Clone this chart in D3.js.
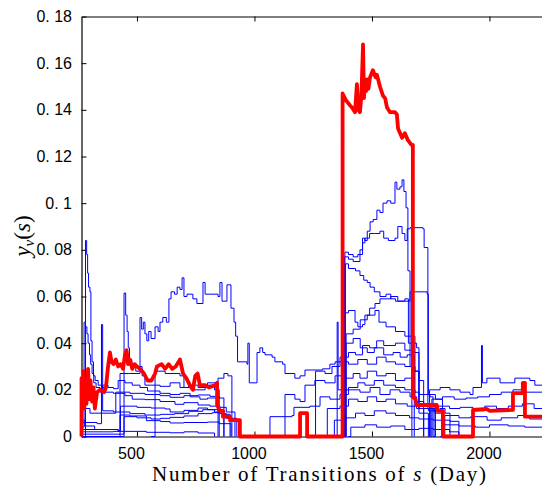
<!DOCTYPE html>
<html><head><meta charset="utf-8">
<script src="https://cdn.jsdelivr.net/npm/d3@7"></script>
<style>body{margin:0;background:#fff}svg{display:block}</style>
</head><body><svg id="c" width="542" height="486"></svg>
<script>
const xTicks=[500,1000,1500,2000];
const yTicks=[0,0.02,0.04,0.06,0.08,0.1,0.12,0.14,0.16,0.18];
const yTickLabels=["0","0. 02","0. 04","0. 06","0. 08","0. 1","0. 12","0. 14","0. 16","0. 18"];

const redSeries=[[264,0],[264,0.025],[268,0.015],[272,0.028],[276,0.012],[280,0.022],[285,0.014],[292,0.029],[297,0.016],[302,0.024],[309,0.015],[315,0.021],[321,0.012],[330,0.019],[343,0.020],[360,0.019],[368,0.021],[377,0.030],[385,0.036],[392,0.032],[400,0.031],[410,0.033],[420,0.030],[430,0.031],[441,0.029],[449,0.035],[456,0.037],[462,0.031],[470,0.033],[480,0.029],[490,0.031],[500,0.030],[513,0.029],[530,0.027],[545,0.024],[562,0.024],[577,0.027],[585,0.030],[605,0.031],[620,0.029],[635,0.031],[650,0.029],[665,0.030],[683,0.033],[696,0.027],[710,0.025],[725,0.022],[738,0.020],[748,0.026],[758,0.027],[768,0.022],[790,0.022],[806,0.021],[832,0.022],[841,0.023],[841,0.0135],[853,0.011],[866,0.011],[866,0.0085],[896,0.0085],[896,0.007],[938,0.007],[938,0],[1194,0],[1194,0.010],[1224,0.010],[1224,0],[1375,0],[1375,0.147],[1390,0.144],[1406,0.142],[1415,0.141],[1428,0.139],[1436,0.151],[1442,0.140],[1449,0.139],[1455,0.146],[1462,0.168],[1466,0.145],[1470,0.152],[1475,0.148],[1479,0.153],[1485,0.149],[1492,0.154],[1504,0.157],[1515,0.154],[1521,0.155],[1534,0.150],[1547,0.146],[1556,0.145],[1564,0.141],[1577,0.139],[1598,0.139],[1606,0.138],[1611,0.132],[1628,0.128],[1640,0.130],[1653,0.127],[1668,0.125],[1674,0.125],[1674,0.017],[1685,0.016],[1691,0.0135],[1776,0.0135],[1780,0.011],[1802,0.011],[1802,0],[1930,0],[1930,0.0114],[1989,0.0118],[2000,0.011],[2100,0.0114],[2100,0.0186],[2142,0.0186],[2142,0.023],[2151,0.023],[2151,0.0085],[2300,0.0085]];

const blue01=[[264,0],[281,0.084],[286,0.078],[290,0.070],[294,0.064],[300,0.062],[304,0.041],[309,0.032],[315,0.026],[322,0.024],[335,0.022],[350,0.021],[364,0.019],[400,0.0185],[449,0.0175],[480,0.016],[534,0.0158],[598,0.015],[662,0.0138],[700,0.0145],[760,0.0135],[811,0.0130],[853,0.0125],[880,0.0105],[917,0]];
const blue02=[[264,0.004],[275,0.049],[281,0.047],[287,0.044],[292,0.040],[298,0.035],[303,0.031],[309,0.027],[316,0.023],[326,0.021],[343,0.019],[355,0.022],[377,0.021],[400,0.0205],[420,0.024],[449,0.023],[480,0.022],[513,0.021],[545,0.0195],[598,0.0185],[641,0.018],[683,0.0185],[726,0.017],[768,0.016],[800,0.0165],[845,0]];
const blue03=[[264,0.006],[330,0.0055],[349,0.048],[354,0.011],[400,0.0105],[470,0.0098],[534,0.0092],[600,0.0095],[660,0.0098],[720,0.0108],[780,0.0115],[830,0.0105],[866,0.0095],[896,0]];
const blue04=[[264,0.001],[445,0.0615],[452,0.052],[458,0.045],[463,0.038],[468,0.033],[478,0.030],[495,0.028],[510,0.030],[522,0.026],[534,0.022],[560,0.022],[598,0.0215],[641,0.023],[683,0.021],[720,0.022],[760,0.021],[800,0.023],[845,0.025],[870,0.027],[887,0.026],[904,0]];
const blue05=[[264,0.002],[400,0.0022],[428,0.027],[470,0.027],[513,0.051],[520,0.046],[527,0.049],[534,0.044],[542,0.041],[550,0.045],[560,0.042],[577,0.047],[590,0.045],[598,0.049],[610,0.051],[625,0.049],[636,0.059],[645,0.062],[660,0.061],[671,0.064],[683,0.063],[692,0.068],[700,0.060],[713,0.061],[738,0.059],[755,0.057],[781,0.066],[790,0.061],[845,0.060],[853,0.066],[862,0.058],[883,0.065],[900,0.055],[913,0.049],[920,0.043],[928,0.032],[968,0.031],[972,0.040],[978,0.023],[1011,0.036],[1023,0.038],[1035,0.036],[1045,0.035],[1075,0.034],[1087,0.032],[1120,0.031],[1130,0.027],[1172,0.025],[1194,0.026],[1215,0.0285],[1290,0.029],[1321,0.031],[1343,0.032],[1364,0.034],[1400,0.036],[1430,0.035],[1460,0.039],[1490,0.038],[1520,0.041],[1550,0.039],[1600,0.040],[1640,0.037],[1680,0.036],[1700,0.012],[1760,0.011],[1800,0]];
const blue06=[[264,0.012],[300,0.010],[410,0.019],[470,0.0185],[534,0.018],[598,0.0175],[641,0.0168],[700,0.0175],[760,0.0178],[811,0.0172],[850,0.0165],[870,0]];
const blue07=[[264,0.003],[420,0.0025],[430,0.013],[500,0.0125],[560,0.0122],[620,0.0118],[641,0.0105],[700,0.0112],[760,0.0122],[800,0.0115],[845,0.011],[870,0]];
const blue08=[[264,0],[440,0],[445,0.0085],[500,0.0080],[560,0.0075],[600,0.0078],[641,0.0082],[700,0.0088],[760,0.0098],[820,0.0102],[850,0.0098],[880,0.0078],[925,0]];
const blue09=[[264,0],[420,0],[428,0.0092],[470,0.0088],[540,0.0068],[600,0.0064],[641,0.0058],[700,0.0060],[800,0.0062],[850,0.0055],[900,0]];
const blue10=[[264,0.007],[278,0.0045],[320,0.003],[420,0.0022],[540,0.0018],[640,0.0016],[700,0.002],[760,0.0015],[830,0]];
const blue11=[[560,0],[577,0.028],[620,0.027],[683,0.026],[700,0.021],[740,0.020],[790,0.022],[830,0.020],[850,0]];
const blue12=[[1060,0],[1066,0.0085],[1160,0.009],[1168,0.0125],[1236,0.013],[1279,0.017],[1321,0.016],[1364,0.018],[1400,0.020],[1449,0.019],[1492,0.021],[1534,0.018],[1577,0.020],[1619,0.019],[1662,0.017],[1690,0.012],[1720,0]];
const blue13=[[1125,0],[1130,0.018],[1172,0.016],[1194,0.015],[1215,0.022],[1257,0.024],[1300,0.023],[1343,0.026],[1385,0.025],[1420,0.027],[1449,0.025],[1480,0.028],[1520,0.026],[1560,0.027],[1600,0.024],[1640,0.025],[1670,0]];
const blue14=[[1255,0],[1260,0.028],[1300,0.027],[1330,0.030],[1364,0.032],[1400,0.031],[1440,0.033],[1480,0.031],[1520,0.034],[1560,0.032],[1600,0.031],[1640,0.030],[1680,0.028],[1700,0.018],[1747,0.017],[1760,0]];
const blue15=[[1340,0],[1352,0.049],[1356,0.020],[1400,0.021],[1440,0.023],[1470,0.022],[1510,0.024],[1550,0.022],[1600,0.021],[1640,0.020],[1683,0.019],[1700,0.014],[1740,0.013],[1768,0]];
const blue16=[[1380,0],[1390,0.044],[1420,0.046],[1450,0.050],[1480,0.052],[1513,0.054],[1530,0.049],[1560,0.047],[1600,0.045],[1640,0.043],[1670,0.043],[1683,0.015],[1720,0.014],[1750,0]];
const blue17=[[1375,0],[1385,0.079],[1400,0.078],[1420,0.077],[1440,0.078],[1449,0.080],[1460,0.085],[1470,0.084],[1480,0.088],[1492,0.092],[1505,0.093],[1521,0.097],[1534,0.096],[1547,0.100],[1564,0.101],[1580,0.100],[1598,0.109],[1606,0.106],[1619,0.107],[1628,0.110],[1636,0.105],[1645,0.098],[1653,0.071],[1662,0.030],[1683,0.028],[1700,0.024],[1720,0]];
const blue18=[[1378,0],[1383,0.077],[1400,0.076],[1420,0.075],[1449,0.078],[1460,0.083],[1470,0.085],[1490,0.087],[1510,0.087],[1534,0.088],[1550,0.085],[1570,0.084],[1598,0.085],[1610,0.090],[1628,0.087],[1640,0.084],[1650,0.089],[1662,0.0895],[1717,0.089],[1722,0.081],[1738,0.012],[1768,0.010],[1800,0]];
const blue19=[[1382,0],[1387,0.074],[1400,0.072],[1430,0.071],[1449,0.069],[1465,0.067],[1480,0.066],[1492,0.064],[1510,0.062],[1534,0.060],[1560,0.061],[1580,0.059],[1600,0.058],[1640,0.058],[1662,0.062],[1717,0.062],[1735,0.061],[1740,0.018],[1770,0.016],[1800,0]];
const blue20=[[1370,0],[1375,0.053],[1400,0.054],[1428,0.049],[1440,0.047],[1460,0.048],[1470,0.052],[1490,0.055],[1513,0.057],[1534,0.059],[1580,0.060],[1610,0.058],[1640,0.059],[1655,0.040],[1690,0.038],[1700,0.010],[1740,0]];
const blue21=[[1300,0],[1310,0.012],[1364,0.013],[1400,0.016],[1440,0.015],[1480,0.017],[1520,0.015],[1560,0.016],[1600,0.014],[1650,0.013],[1700,0.012],[1740,0.011],[1789,0.012],[1811,0.010],[1832,0]];
const blue22=[[1330,0],[1340,0.007],[1390,0.008],[1430,0.010],[1470,0.009],[1510,0.011],[1560,0.010],[1600,0.009],[1660,0.008],[1700,0.0075],[1760,0.007],[1832,0.0065],[1870,0]];
const blue23=[[1385,0],[1390,0.040],[1420,0.042],[1450,0.038],[1480,0.036],[1510,0.038],[1550,0.035],[1590,0.036],[1620,0.034],[1650,0.035],[1680,0]];
const blue24=[[1400,0],[1410,0.004],[1470,0.005],[1520,0.004],[1580,0.0045],[1640,0.003],[1700,0.0035],[1760,0.003],[1830,0.002],[1870,0]];
const blue25=[[1740,0],[1745,0.020],[1790,0.021],[1832,0.020],[1875,0.019],[1917,0.018],[1930,0.021],[1964,0.021],[1966,0.039],[1970,0.023],[1989,0.025],[2045,0.023],[2108,0.025],[2172,0.024],[2193,0.022],[2300,0.022]];
const blue26=[[1750,0],[1755,0.016],[1800,0.017],[1850,0.016],[1900,0.0165],[1950,0.017],[2000,0.018],[2050,0.019],[2100,0.020],[2150,0.019],[2300,0.020]];
const blue27=[[1760,0],[1770,0.013],[1830,0.012],[1875,0.0125],[1930,0.011],[1980,0.013],[2030,0.012],[2080,0.013],[2140,0.014],[2190,0.012],[2300,0.012]];
const blue28=[[1800,0],[1810,0.009],[1870,0.008],[1920,0.0085],[1990,0.007],[2050,0.008],[2120,0.009],[2170,0.0075],[2300,0.008]];
const blue29=[[1790,0],[1800,0.005],[1870,0.0045],[1940,0.004],[2000,0.005],[2080,0.0045],[2150,0.004],[2300,0.0042]];

const blueSeries=[blue01,blue02,blue03,blue04,blue05,blue06,blue07,blue08,blue09,blue10,blue11,blue12,blue13,blue14,blue15,blue16,blue17,blue18,blue19,blue20,blue21,blue22,blue23,blue24,blue25,blue26,blue27,blue28,blue29];

const W=542,H=486;
const L=81.5,T=16.5,B=436.5;
const xMax=2400;
const x=d3.scaleLinear().domain([264,xMax]).range([L,L+(xMax-264)*0.235]);
const y=d3.scaleLinear().domain([0,0.18]).range([B,T]);
const svg=d3.select("#c");
const tickFont='"Liberation Sans",Arial,sans-serif';

svg.append("defs").append("clipPath").attr("id","clip").append("rect")
  .attr("x",L-3).attr("y",T-3).attr("width",W).attr("height",B-T+6);

// axes
const gx=svg.append("g").attr("transform",`translate(0,${B})`)
  .call(d3.axisBottom(x).tickValues(xTicks).tickSizeInner(-5).tickSizeOuter(0).tickPadding(11.5).tickFormat(d3.format("d")));
const gt=svg.append("g").attr("transform",`translate(0,${T})`)
  .call(d3.axisTop(x).tickValues(xTicks).tickSizeInner(-5).tickSizeOuter(0).tickFormat(""));
const gy=svg.append("g").attr("transform",`translate(${L},0)`)
  .call(d3.axisLeft(y).tickValues(yTicks).tickSizeInner(-5).tickSizeOuter(0).tickPadding(9.5).tickFormat((d,i)=>yTickLabels[i]));
[gx,gt,gy].forEach(g=>{
  g.selectAll("path.domain").attr("stroke","#000").attr("stroke-width",1.2);
  g.selectAll(".tick line").attr("stroke","#000").attr("stroke-width",1);
  g.selectAll(".tick text").attr("fill","#000").style("font-family",tickFont).style("font-size","16px");
});
gx.selectAll(".tick text").attr("dx","-6");

// lines
const plot=svg.append("g").attr("clip-path","url(#clip)");
const blueLine=d3.line().x(d=>x(d[0])).y(d=>y(d[1])).curve(d3.curveStepAfter);
plot.selectAll("path.blue").data(blueSeries).enter().append("path")
  .attr("class","blue").attr("d",blueLine)
  .attr("fill","none").attr("stroke","#0000ff").attr("stroke-width",1);
const redLine=d3.line().x(d=>x(d[0])).y(d=>y(d[1]));
plot.append("path").datum(redSeries).attr("d",redLine)
  .attr("fill","none").attr("stroke","#ff0000").attr("stroke-width",3.8).attr("stroke-linejoin","round");

// labels
const serif='"Liberation Serif","Times New Roman",serif';
const xl=svg.append("text").attr("x",319).attr("y",481).attr("text-anchor","middle")
  .style("font-family",serif).style("font-size","21px").attr("fill","#000")
  .attr("textLength",334).attr("lengthAdjust","spacing");
xl.append("tspan").text("Number of Transitions of ");
xl.append("tspan").style("font-style","italic").text("s");
xl.append("tspan").text(" (Day)");

const yl=svg.append("text").attr("transform","translate(30,236) rotate(-90)").attr("text-anchor","middle")
  .style("font-family",serif).style("font-size","23px").attr("fill","#000");
yl.append("tspan").style("font-style","italic").text("y");
yl.append("tspan").style("font-style","italic").style("font-size","15px").attr("dy",4).text("v");
yl.append("tspan").attr("dy",-4).text("(");
yl.append("tspan").style("font-style","italic").text("s");
yl.append("tspan").text(")");
</script></body></html>
